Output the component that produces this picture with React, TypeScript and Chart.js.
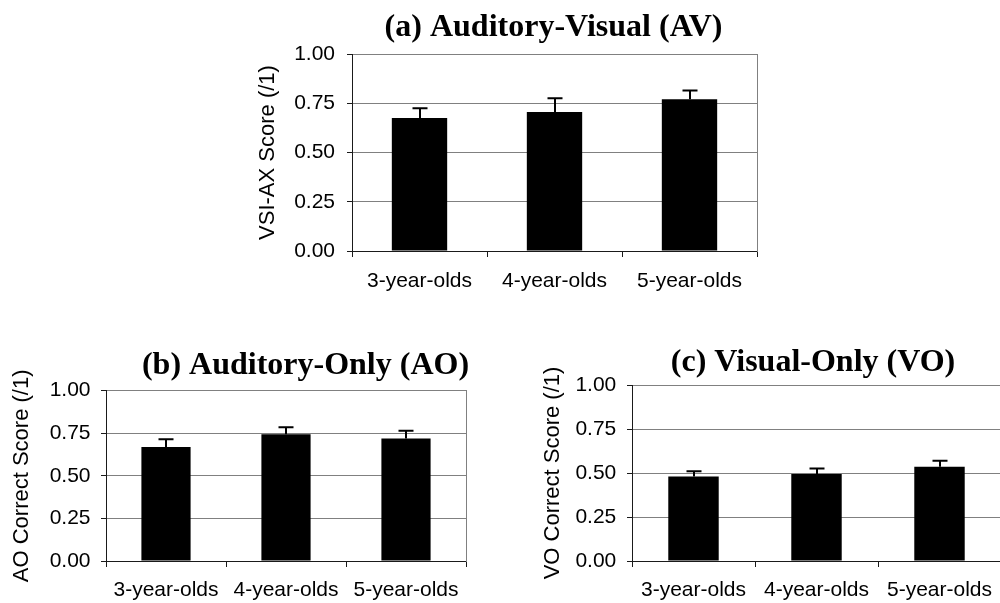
import React, { useEffect, useRef } from "react";
import { Chart, registerables } from "chart.js";

Chart.register(...registerables);

// ---- data ----
const categories = ["3-year-olds", "4-year-olds", "5-year-olds"];
const yTickStep = 0.25;
const yMin = 0;
const yMax = 1;

const avMeans = [0.675, 0.705, 0.77];
const avErrors = [0.05, 0.07, 0.045];

const aoMeans = [0.67, 0.745, 0.72];
const aoErrors = [0.045, 0.04, 0.045];

const voMeans = [0.48, 0.495, 0.535];
const voErrors = [0.03, 0.03, 0.035];

const titles = ["(a) Auditory-Visual (AV)", "(b) Auditory-Only (AO)", "(c) Visual-Only (VO)"];
const yTitles = ["VSI-AX Score (/1)", "AO Correct Score (/1)", "VO Correct Score (/1)"];

// ---- styles ----
const SANS = '"Liberation Sans", Arial, sans-serif';
const SERIF = '"Liberation Serif", "Times New Roman", serif';
const GRID = "#808080";
const AXIS = "#1a1a1a";

type Geom = {
  left: number;
  top: number;
  width: number;
  height: number;
  yWidth: number;
  y2Width: number;
  xHeight: number;
  titlePadTop: number;
  titlePadBottom: number;
  yTitlePad: number;
  yTickPad: number;
  xTickPad: number;
};

type PanelProps = {
  title: string;
  yTitle: string;
  means: number[];
  errors: number[];
  geom: Geom;
};

function Panel({ title, yTitle, means, errors, geom }: PanelProps) {
  const ref = useRef<HTMLCanvasElement | null>(null);

  useEffect(() => {
    if (!ref.current) return;
    const errorBars = {
      id: "errorBars",
      afterDatasetsDraw(chart: any) {
        const ctx = chart.ctx;
        const meta = chart.getDatasetMeta(0);
        const yScale = chart.scales.y;
        ctx.save();
        ctx.strokeStyle = "#000";
        ctx.lineWidth = 2;
        meta.data.forEach((bar: any, i: number) => {
          const yBase = yScale.getPixelForValue(means[i]);
          const yTop = yScale.getPixelForValue(means[i] + errors[i]);
          const x = Math.round(bar.x);
          ctx.beginPath();
          ctx.moveTo(x, yBase);
          ctx.lineTo(x, yTop);
          ctx.moveTo(x - 7.5, yTop);
          ctx.lineTo(x + 7.5, yTop);
          ctx.stroke();
        });
        ctx.restore();
      },
    };

    const chart = new Chart(ref.current, {
      type: "bar",
      data: {
        labels: categories,
        datasets: [
          {
            data: means,
            backgroundColor: "#000",
            borderWidth: 0,
            barPercentage: 0.41,
            categoryPercentage: 1,
          },
        ],
      },
      options: {
        responsive: false,
        animation: false,
        devicePixelRatio: 1,
        layout: { padding: 0 },
        plugins: {
          legend: { display: false },
          tooltip: { enabled: false },
          title: {
            display: true,
            text: title,
            color: "#000",
            font: { family: SERIF, size: 32, weight: "bold", lineHeight: 1.2 },
            padding: { top: geom.titlePadTop, bottom: geom.titlePadBottom },
          },
        },
        scales: {
          x: {
            type: "category",
            offset: true,
            grid: {
              display: true,
              offset: true,
              drawOnChartArea: false,
              drawTicks: true,
              tickLength: 6,
              tickColor: AXIS,
              color: AXIS,
            },
            border: { display: true, color: AXIS, width: 1 },
            ticks: {
              color: "#000",
              font: { family: SANS, size: 21 },
              padding: geom.xTickPad,
              maxRotation: 0,
              minRotation: 0,
              autoSkip: false,
            },
            afterFit: (s: any) => {
              s.height = geom.xHeight;
            },
          },
          y: {
            type: "linear",
            position: "left",
            min: yMin,
            max: yMax,
            grid: {
              color: GRID,
              lineWidth: 1,
              drawTicks: true,
              tickLength: 5,
              tickColor: AXIS,
            },
            border: { display: true, color: AXIS, width: 1 },
            ticks: {
              stepSize: yTickStep,
              color: "#000",
              font: { family: SANS, size: 21 },
              padding: geom.yTickPad,
              callback: (v: any) => Number(v).toFixed(2),
            },
            title: {
              display: true,
              text: yTitle,
              color: "#000",
              font: { family: SANS, size: 22, lineHeight: 1.2 },
              padding: { top: geom.yTitlePad, bottom: 0 },
            },
            afterFit: (s: any) => {
              s.width = geom.yWidth;
            },
          },
          y2: {
            type: "linear",
            position: "right",
            min: yMin,
            max: yMax,
            grid: { display: true, drawOnChartArea: false, drawTicks: false },
            border: { display: true, color: GRID, width: 1 },
            ticks: { display: false },
            afterFit: (s: any) => {
              s.width = geom.y2Width;
            },
          },
        },
      },
      plugins: [errorBars],
    } as any);

    return () => chart.destroy();
  }, [title, yTitle, means, errors, geom]);

  return (
    <canvas
      ref={ref}
      width={geom.width}
      height={geom.height}
      style={{
        position: "absolute",
        left: geom.left,
        top: geom.top,
        width: geom.width,
        height: geom.height,
      }}
    />
  );
}

const geomA: Geom = {
  left: 240,
  top: 0,
  width: 627,
  height: 301,
  yWidth: 112,
  y2Width: 110,
  xHeight: 50,
  titlePadTop: 8.8,
  titlePadBottom: 6.8,
  yTitlePad: 14.3,
  yTickPad: 12,
  xTickPad: 11.4,
};

const geomB: Geom = {
  left: 0,
  top: 320,
  width: 611,
  height: 283,
  yWidth: 106,
  y2Width: 145,
  xHeight: 42,
  titlePadTop: 27,
  titlePadBottom: 5.3,
  yTitlePad: 8.8,
  yTickPad: 10.5,
  xTickPad: 10.4,
};

const geomC: Geom = {
  left: 530,
  top: 320,
  width: 566,
  height: 283,
  yWidth: 102,
  y2Width: 95,
  xHeight: 42,
  titlePadTop: 23.5,
  titlePadBottom: 3.1,
  yTitlePad: 9.3,
  yTickPad: 10.7,
  xTickPad: 10.4,
};

export default function App() {
  return (
    <div
      style={{
        position: "absolute",
        left: 0,
        top: 0,
        width: 1000,
        height: 603,
        overflow: "hidden",
        background: "#fff",
      }}
    >
      <Panel title={titles[0]} yTitle={yTitles[0]} means={avMeans} errors={avErrors} geom={geomA} />
      <Panel title={titles[1]} yTitle={yTitles[1]} means={aoMeans} errors={aoErrors} geom={geomB} />
      <Panel title={titles[2]} yTitle={yTitles[2]} means={voMeans} errors={voErrors} geom={geomC} />
    </div>
  );
}
